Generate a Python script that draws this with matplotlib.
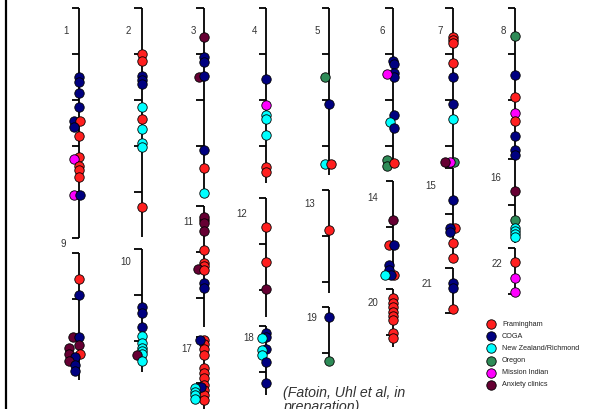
import matplotlib
matplotlib.use("Agg")
import matplotlib.pyplot as plt

# ---------------- data ----------------
cohorts = ['Framingham', 'COGA', 'New Zealand/Richmond', 'Oregon',
           'Mission Indian', 'Anxiety clinics']
cohort_codes = ['F', 'C', 'Z', 'O', 'M', 'A']
cohort_colors = ['#FF1F1F', '#000080', '#00FFFF', '#2E8B57', '#FF00FF', '#660033']

chromosomes = [str(i) for i in range(1, 23)]
chrom_length_cm = [250, 249, 205, 190, 182, 173, 171, 162, 138, 134, 132,
                   129, 112, 103, 100, 91, 85, 75, 59, 63, 49, 50]
chrom_ticks_cm = [[0, 50, 100, 150, 200, 250], [0, 50, 100, 150, 200],
                  [0, 50, 100, 150], [0, 50, 100, 150], [0, 50, 100, 150],
                  [0, 50, 100, 150], [0, 50, 100, 150], [0, 50, 100],
                  [0, 50], [0, 50, 100], [0, 50, 100], [0, 50, 100],
                  [0, 50, 100], [0, 50], [0, 50], [0, 50], [0, 50], [0, 50],
                  [0, 50], [0, 50], [0, 49], [0, 50]]

# linkage peaks: (position in cM from top of chromosome, cohort code)
peaks = {
    '1': [(75, 'C'), (80, 'C'), (92, 'C'), (108, 'C'), (123, 'C'), (123, 'F'),
          (129, 'C'), (139, 'F'), (162, 'F'), (164, 'M'), (172, 'F'), (176, 'F'),
          (184, 'F'), (203, 'M'), (203, 'C')],
    '2': [(50, 'F'), (58, 'F'), (74, 'C'), (78, 'C'), (83, 'C'), (108, 'Z'),
          (121, 'F'), (132, 'Z'), (147, 'Z'), (151, 'Z'), (216, 'F')],
    '3': [(32, 'A'), (53, 'C'), (59, 'C'), (75, 'A'), (74, 'C'), (154, 'C'),
          (174, 'F'), (201, 'Z')],
    '4': [(77, 'C'), (105, 'M'), (116, 'Z'), (121, 'Z'), (138, 'Z'), (173, 'F'),
          (178, 'F')],
    '5': [(75, 'O'), (104, 'C'), (170, 'Z'), (170, 'F')],
    '6': [(58, 'C'), (61, 'C'), (71, 'C'), (75, 'C'), (72, 'M'), (116, 'C'),
          (124, 'Z'), (130, 'C'), (165, 'O'), (172, 'O'), (168, 'F')],
    '7': [(32, 'F'), (35, 'F'), (38, 'F'), (60, 'F'), (75, 'C'), (104, 'C'),
          (121, 'Z'), (167, 'O'), (167, 'M'), (167, 'A')],
    '8': [(30, 'O'), (73, 'C'), (97, 'F'), (114, 'M'), (123, 'F'), (139, 'C'),
          (154, 'C'), (160, 'C')],
    '9': [(28, 'F'), (46, 'C'), (91, 'A'), (91, 'C'), (100, 'A'), (103, 'A'),
          (110, 'F'), (110, 'A'), (113, 'C'), (117, 'A'), (122, 'C'), (128, 'C')],
    '10': [(63, 'C'), (70, 'C'), (85, 'C'), (95, 'Z'), (102, 'Z'), (108, 'Z'),
           (111, 'Z'), (114, 'Z'), (115, 'A'), (122, 'Z')],
    '11': [(15, 'F'), (12, 'A'), (18, 'A'), (27, 'A'), (48, 'F'), (62, 'F'),
           (65, 'F'), (68, 'A'), (70, 'F'), (84, 'C'), (89, 'C')],
    '12': [(32, 'F'), (70, 'F'), (99, 'A')],
    '13': [(43, 'F')],
    '14': [(42, 'A'), (70, 'F'), (70, 'C'), (102, 'F'), (91, 'C'), (97, 'C'),
           (102, 'C'), (102, 'Z')],
    '15': [(35, 'C'), (65, 'F'), (65, 'C'), (70, 'C'), (82, 'F'), (98, 'F')],
    '16': [(35, 'A'), (66, 'O'), (75, 'Z'), (78, 'Z'), (82, 'Z'), (85, 'Z')],
    '17': [(3, 'F'), (8, 'F'), (13, 'F'), (20, 'F'), (34, 'F'), (39, 'F'),
           (45, 'F'), (52, 'F'), (58, 'F'), (63, 'F'), (68, 'F'), (3, 'C'),
           (54, 'C'), (55, 'Z'), (60, 'Z'), (63, 'Z'), (67, 'Z')],
    '18': [(8, 'C'), (12, 'C'), (13, 'Z'), (25, 'C'), (26, 'Z'), (32, 'Z'),
           (39, 'C'), (62, 'C')],
    '19': [(11, 'C'), (59, 'O')],
    '20': [(10, 'F'), (15, 'F'), (20, 'F'), (25, 'F'), (29, 'F'), (34, 'F'),
           (48, 'F'), (53, 'F')],
    '21': [(16, 'C'), (22, 'C'), (45, 'F')],
    '22': [(15, 'F'), (33, 'M'), (48, 'M')],
}

citation_lines = ["(Fatoin, Uhl et al, in", "preparation)"]

# ---------------- layout (pixels) ----------------
W, H = 592, 409
PX_PER_CM = 0.92
chrom_xy = {  # column x, top y of each chromosome line
    '1': (79, 8), '2': (141.5, 8), '3': (203.5, 8), '4': (266, 8),
    '5': (329, 8), '6': (392.5, 8), '7': (452.5, 8), '8': (515, 8),
    '9': (79, 253), '10': (141.5, 249), '11': (203.5, 206), '12': (266, 198),
    '13': (329, 190), '14': (393, 181), '15': (452.5, 168), '16': (515, 159),
    '17': (203.5, 337), '18': (266, 326), '19': (329, 307), '20': (393, 289),
    '21': (452.5, 268), '22': (515, 248),
}
label_off = {
    '1': (-13, 23), '2': (-13.5, 23), '3': (-10.5, 23), '4': (-11, 23),
    '5': (-12, 23), '6': (-10.5, 23), '7': (-12.5, 23), '8': (-12, 23),
    '9': (-16, -9), '10': (-16, 13), '11': (-15.5, 16), '12': (-24, 16),
    '13': (-19, 14), '14': (-20, 17), '15': (-21.5, 18), '16': (-19, 19),
    '17': (-16.5, 12), '18': (-17, 12), '19': (-17, 11), '20': (-20, 14),
    '21': (-25.5, 16), '22': (-18, 16),
}
# horizontal nudges (px) so overlapping circles stay visible
dot_dx = {
    '1': [0, 0, 0, 0, -5, 1, -5, 0, 0, -5, 0, 0, 0, -5, 1],
    '3': [0, 0, 0, -5, 0, 0, 0, 0],
    '5': [-4, 0, -4, 2],
    '6': [0, 1, 1, 1, -6, 1, -3, 1, -6, -6, 1],
    '7': [0, 0, 0, 0, 0, 0, 0, 1, -3, -8],
    '9': [0, 0, -6, 0, 0, -10, 1, -10, -4, -10, -4, -4],
    '10': [0, 0, 0, 0, 0, 0, 0, 0, -5, 0],
    '11': [0, 0, 0, 0, 0, 0, 0, -6, 0, 0, 0],
    '14': [0, -4, 1, 1, -4, -4, -2, -8],
    '15': [0, 2, -3, -3, 0, 0],
    '17': [0] * 11 + [-4, -3, -9, -9, -9, -9],
    '18': [0, 0, -4, 0, -4, -4, 0, 0],
}

color_of = dict(zip(cohort_codes, cohort_colors))

fig = plt.figure(figsize=(W / 100, H / 100), dpi=100)
ax = fig.add_axes([0, 0, 1, 1])
ax.set_xlim(0, W)
ax.set_ylim(H, 0)
ax.axis('off')

# left border line
ax.plot([5.5, 5.5], [0, H], color='black', lw=1.6, solid_capstyle='butt')

tick_len = 7.5
for i, ch in enumerate(chromosomes):
    x0, y0 = chrom_xy[ch]
    L = chrom_length_cm[i]
    ax.plot([x0, x0], [y0, y0 + L * PX_PER_CM], color='black', lw=1.3, zorder=2,
            solid_capstyle='butt')
    for t in chrom_ticks_cm[i]:
        ty = y0 + t * PX_PER_CM
        ax.plot([x0 - tick_len, x0], [ty, ty], color='black', lw=1.3, zorder=2,
                solid_capstyle='butt')
    dx, dy = label_off[ch]
    ax.text(x0 + dx, y0 + dy, ch, ha='center', va='center', fontsize=7,
            color='#333333', family='Liberation Sans')
    pk = peaks[ch]
    offs = dot_dx.get(ch, [0] * len(pk))
    xs = [x0 + o for o in offs]
    ys = [y0 + cm * PX_PER_CM for cm, _ in pk]
    cs = [color_of[c] for _, c in pk]
    for k in range(len(pk)):
        ax.scatter([xs[k]], [ys[k]], s=46, c=[cs[k]], edgecolors='black',
                   linewidths=0.6, zorder=3 + k * 0.01)

# legend
leg_x, leg_y0, leg_dy = 491, 324, 12.2
for j, (name, col) in enumerate(zip(cohorts, cohort_colors)):
    yy = leg_y0 + j * leg_dy
    ax.scatter([leg_x], [yy], s=46, c=[col], edgecolors='black', linewidths=0.6,
               zorder=5)
    ax.text(leg_x + 11, yy, name, ha='left', va='center', fontsize=5.2,
            color='#222222', family='Liberation Sans')

for k, line in enumerate(citation_lines):
    ax.text(283, 397 + k * 14.5, line, ha='left', va='baseline', fontsize=10.2,
            style='italic', color='#333333', family='Liberation Sans')

fig.savefig('out.png', dpi=100)
